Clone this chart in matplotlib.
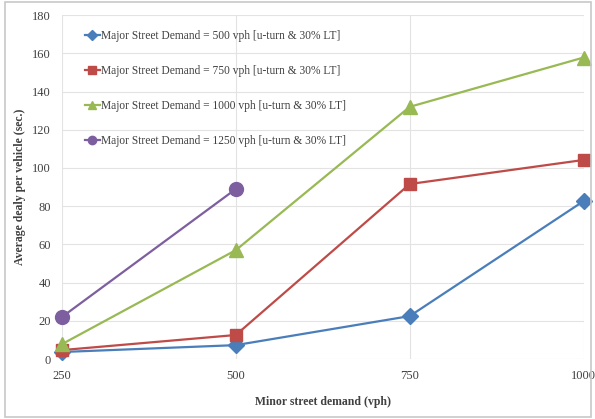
import matplotlib
matplotlib.use("Agg")
import matplotlib.pyplot as plt
from matplotlib.patches import Rectangle

plt.rcParams['font.family'] = ['Liberation Serif', 'DejaVu Serif']

minorDemand = [250, 500, 750, 1000]
delay500 = [3.7, 7.3, 22.5, 82.7]
delay750 = [4.7, 12.6, 91.6, 104.2]
delay1000 = [7.8, 57.0, 132.0, 157.8]
minor1250 = [250, 500]
delay1250 = [22.0, 89.0]
seriesLabels = [
    "Major Street Demand = 500 vph [u-turn & 30% LT]",
    "Major Street Demand = 750 vph [u-turn & 30% LT]",
    "Major Street Demand = 1000 vph [u-turn & 30% LT]",
    "Major Street Demand = 1250 vph [u-turn & 30% LT]",
]

fig = plt.figure(figsize=(5.95, 4.19), dpi=100)
ax = fig.add_axes([0.104, 0.143, 0.877, 0.821])

# outer border like the excel chart frame
fig.patches.append(Rectangle((0.008, 0.005), 0.985, 0.99, transform=fig.transFigure,
                             fill=False, edgecolor='#c8c8c8', linewidth=1.2))

ax.plot(minorDemand, delay500, '-', color='#4a7ebb', marker='D', markersize=8, lw=1.6,
        label=seriesLabels[0], clip_on=False)
ax.plot(minorDemand, delay750, '-', color='#be4b48', marker='s', markersize=9, lw=1.6,
        label=seriesLabels[1], clip_on=False)
ax.plot(minorDemand, delay1000, '-', color='#98b954', marker='^', markersize=10, lw=1.6,
        label=seriesLabels[2], clip_on=False)
ax.plot(minor1250, delay1250, '-', color='#7d5fa0', marker='o', markersize=10, lw=1.6,
        label=seriesLabels[3], clip_on=False)

ax.set_xlim(250, 1000)
ax.set_ylim(0, 180)
ax.set_xticks(minorDemand)
ax.set_yticks(range(0, 181, 20))
ax.grid(True, color='#e3e3e3', lw=0.8)
ax.set_axisbelow(True)
for s in ax.spines.values():
    s.set_visible(False)
ax.tick_params(length=0, labelsize=9, colors='#404040', pad=8)

ax.set_xlabel("Minor street demand (vph)", fontsize=8.5, fontweight='bold', color='#404040', labelpad=10)
ax.set_ylabel("Average dealy per vehicle (sec.)", fontsize=8.5, fontweight='bold', color='#404040', labelpad=4)

leg = ax.legend(loc='upper left', frameon=False, fontsize=8.3, labelspacing=2.0,
                handlelength=1.3, handletextpad=0.15, markerscale=0.6,
                bbox_to_anchor=(0.035, 0.97), borderaxespad=0)
for t in leg.get_texts():
    t.set_color('#404040')

fig.savefig("out.png", dpi=100)
